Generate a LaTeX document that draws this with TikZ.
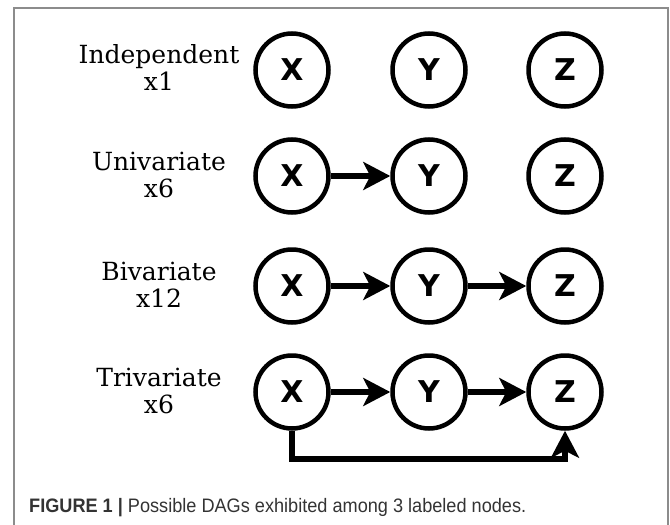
\documentclass[tikz,border=0pt]{standalone}
\usepackage{fontspec}
\setmainfont{DejaVu Serif}
\newfontfamily\letterfont{DejaVu Sans}
\newfontfamily\captionfont[FakeStretch=0.93]{Liberation Sans}
\usetikzlibrary{arrows.meta}

\tikzset{
  var/.style={circle, draw, line width=4.5pt, minimum size=73pt, inner sep=0pt,
    font=\letterfont\bfseries\fontsize{30}{30}\selectfont},
  kind/.style={align=center, font=\fontsize{25}{27}\selectfont},
  edge/.style={line width=5.5pt, -{Stealth[length=27pt, width=28pt, inset=7pt]}},
}

\begin{document}
\begin{tikzpicture}[x=1pt, y=-1pt]
  \useasboundingbox (0,0) rectangle (670,525);
  % outer frame, open at the bottom edge
  \draw[gray!90, line width=1.2pt] (14,560) -- (14,8) -- (668,8) -- (668,560);

  % row labels
  \node[kind] (l1) at (159,68) {Independent\\x1};
  \node[kind] (l2) at (159,175) {Univariate\\x6};
  \node[kind] (l3) at (159,285) {Bivariate\\x12};
  \node[kind] (l4) at (159,391) {Trivariate\\x6};

  % independent
  \node[var] (x1) at (292,70) {X};
  \node[var] (y1) at (429,70) {Y};
  \node[var] (z1) at (565,70) {Z};

  % univariate
  \node[var] (x2) at (292,176) {X};
  \node[var] (y2) at (429,176) {Y};
  \node[var] (z2) at (565,176) {Z};
  \draw[edge] (x2) -- (y2);

  % bivariate
  \node[var] (x3) at (292,286) {X};
  \node[var] (y3) at (429,286) {Y};
  \node[var] (z3) at (565,286) {Z};
  \draw[edge] (x3) -- (y3);
  \draw[edge] (y3) -- (z3);

  % trivariate
  \node[var] (x4) at (292,392) {X};
  \node[var] (y4) at (429,392) {Y};
  \node[var] (z4) at (565,392) {Z};
  \draw[edge] (x4) -- (y4);
  \draw[edge] (y4) -- (z4);
  \draw[edge] (x4.south) -- ++(0,28) -| (z4.south);

  % caption
  \node[anchor=base west, inner sep=0pt, text=black!80,
    font=\captionfont\fontsize{19.5}{22}\selectfont] (cap) at (29,512)
    {\textbf{FIGURE 1 |} Possible DAGs exhibited among 3 labeled nodes.};
\end{tikzpicture}
\end{document}
